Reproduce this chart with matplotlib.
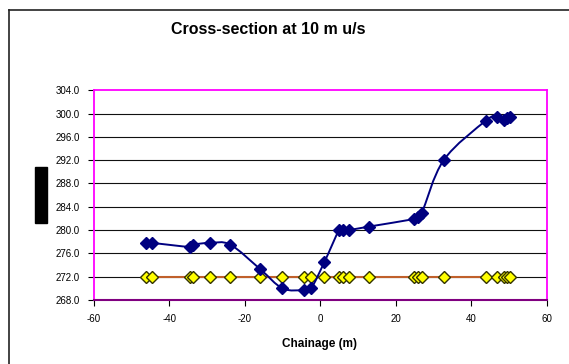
import numpy as np
import matplotlib
matplotlib.use("Agg")
import matplotlib.pyplot as plt
from matplotlib.path import Path
from matplotlib.patches import PathPatch, Rectangle
from matplotlib.lines import Line2D

plt.rcParams['font.family'] = ['Liberation Sans', 'DejaVu Sans']
plt.rcParams['axes.unicode_minus'] = False

# data
chainage = [-46.2, -44.6, -34.4, -33.7, -29.2, -23.8, -15.9, -10.0, -4.3, -2.4,
            1.1, 5.0, 6.1, 7.5, 12.9, 24.9, 25.8, 26.9, 32.7, 43.9, 46.8, 48.7,
            49.6, 50.3]
bed_level = [277.8, 277.8, 277.1, 277.5, 277.8, 277.5, 273.3, 270.0, 269.7, 270.0,
             274.5, 280.0, 280.0, 280.0, 280.6, 281.9, 282.2, 282.9, 292.0, 298.8,
             299.5, 298.9, 299.2, 299.5]
water_level = [272.0] * len(chainage)

xticks = [-60, -40, -20, 0, 20, 40, 60]
yticks = [268, 272, 276, 280, 284, 288, 292, 296, 300, 304]


def smooth_path(x, y):
    # excel style smoothed line: cubic bezier through the points
    pts = np.column_stack([x, y])
    n = len(pts)
    verts = [pts[0]]
    codes = [Path.MOVETO]
    for i in range(n - 1):
        p0 = pts[i - 1] if i > 0 else pts[i]
        p1 = pts[i]
        p2 = pts[i + 1]
        p3 = pts[i + 2] if i + 2 < n else pts[i + 1]
        c1 = p1 + (p2 - p0) / 6.0
        c2 = p2 - (p3 - p1) / 6.0
        verts += [c1, c2, p2]
        codes += [Path.CURVE4] * 3
    return Path(verts, codes)


fig = plt.figure(figsize=(5.69, 3.64), dpi=100)
ax = fig.add_axes([93.7 / 569, 1 - 300 / 364, (546.7 - 93.7) / 569, (300 - 90.3) / 364])

ax.set_xlim(-60, 60)
ax.set_ylim(268, 304)
ax.set_xticks(xticks)
ax.set_yticks(yticks)
ax.set_yticklabels([f'{v:.1f}' for v in yticks])
ax.tick_params(axis='both', labelsize=7, length=4, width=0.8, color='black', pad=6)

for v in yticks[1:-1]:
    ax.axhline(v, color='#111111', lw=0.8, zorder=1)

# water level series
ax.plot(chainage, water_level, color='#C0602B', lw=1.5, zorder=2)
ax.plot(chainage, water_level, ls='none', marker='D', ms=6.0,
        mfc='#FFFF00', mec='#333300', mew=1.0, zorder=3)

# bed level series (smoothed)
ax.add_patch(PathPatch(smooth_path(chainage, bed_level), fill=False,
                       edgecolor='#000080', lw=1.4, zorder=4))
ax.plot(chainage, bed_level, ls='none', marker='D', ms=6.3,
        mfc='#000080', mec='#000080', zorder=5)

for side in ['left', 'top', 'right']:
    ax.spines[side].set_color('#FF00FF')
    ax.spines[side].set_linewidth(1.3)
ax.spines['bottom'].set_color('#800080')
ax.spines['bottom'].set_linewidth(1.5)

fig.text(268 / 569, 1 - 30 / 364, 'Cross-section at 10 m u/s', ha='center', va='center',
         fontsize=11.5, fontweight='bold')
fig.text(319 / 569, 1 - 344 / 364, 'Chainage (m)', ha='center', va='center',
         fontsize=8.5, fontweight='bold')

# redacted y-axis title block
fig.add_artist(Rectangle((35 / 569, 1 - 222.7 / 364), 12 / 569, 55.4 / 364,
                         transform=fig.transFigure, color='black'))

# outer chart frame (only left and top edges visible)
fig.add_artist(Line2D([8.5 / 569, 8.5 / 569], [0, 1 - 9.5 / 364], transform=fig.transFigure,
                      color='#222222', lw=1.2))
fig.add_artist(Line2D([8.5 / 569, 1], [1 - 9.5 / 364, 1 - 9.5 / 364], transform=fig.transFigure,
                      color='#222222', lw=1.2))

fig.savefig('out.png', dpi=100)
